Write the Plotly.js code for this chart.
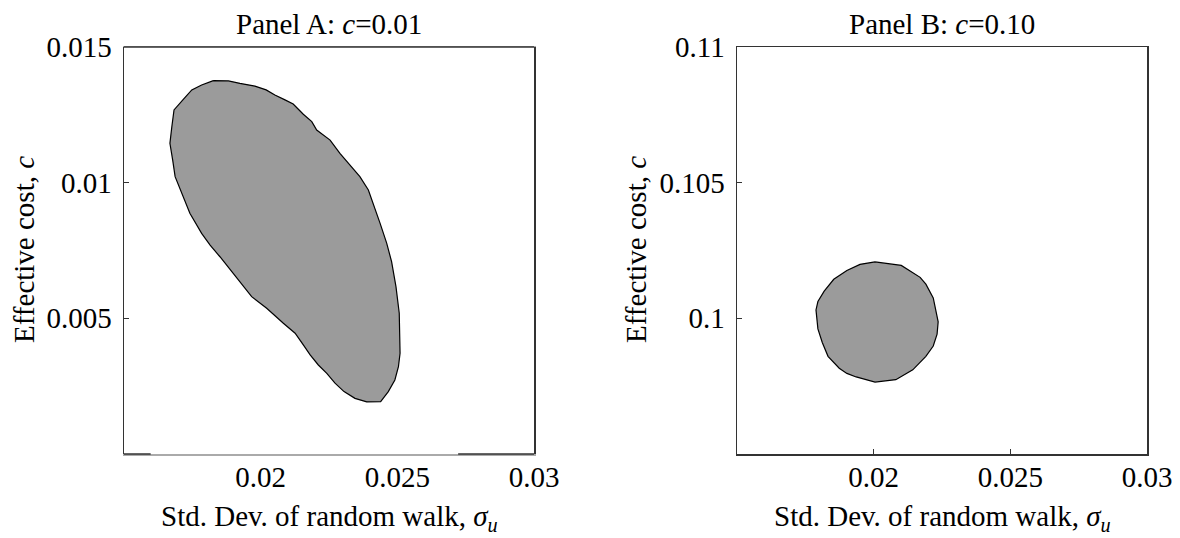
<!DOCTYPE html>
<html>
<head>
<meta charset="utf-8">
<script src="https://cdn.plot.ly/plotly-3.0.1.min.js"></script>
<style>html,body{margin:0;padding:0;background:#fff;}#chart{width:1180px;height:538px;}</style>
</head>
<body>
<div id="chart"></div>
<script>
// Panel A: c = 0.01 — boundary of the region (sigma_u, c)
const panelASigma = [0.01827,0.01882,0.01924,0.01979,0.02020,0.02052,0.02089,0.02119,0.02156,0.02187,0.02205,0.02254,0.02290,0.02327,0.02363,0.02394,0.02412,0.02437,0.02461,0.02479,0.02495,0.02507,0.02510,0.02504,0.02491,0.02467,0.02439,0.02388,0.02345,0.02305,0.02272,0.02242,0.02211,0.02181,0.02156,0.02126,0.02083,0.02022,0.01967,0.01924,0.01882,0.01851,0.01815,0.01784,0.01741,0.01717,0.01687,0.01678,0.01668,0.01675,0.01683,0.01717,0.01748,0.01784,0.01827];
const panelACost  = [0.01376,0.01375,0.01366,0.01356,0.01342,0.01323,0.01305,0.01290,0.01252,0.01225,0.01194,0.01157,0.01108,0.01065,0.01022,0.00973,0.00924,0.00850,0.00777,0.00709,0.00617,0.00519,0.00371,0.00322,0.00273,0.00230,0.00193,0.00192,0.00205,0.00230,0.00261,0.00297,0.00328,0.00365,0.00402,0.00445,0.00482,0.00537,0.00580,0.00635,0.00690,0.00727,0.00770,0.00813,0.00887,0.00948,0.01022,0.01084,0.01145,0.01206,0.01268,0.01307,0.01342,0.01360,0.01376];

// Panel B: c = 0.10
const panelBSigma = [0.02005,0.02101,0.02170,0.02191,0.02218,0.02225,0.02236,0.02232,0.02218,0.02191,0.02143,0.02081,0.02005,0.01936,0.01902,0.01874,0.01833,0.01812,0.01796,0.01789,0.01796,0.01819,0.01854,0.01902,0.01950,0.02005];
const panelBCost  = [0.10208,0.10195,0.10151,0.10126,0.10075,0.10043,0.09987,0.09942,0.09898,0.09860,0.09810,0.09774,0.09765,0.09784,0.09797,0.09816,0.09860,0.09911,0.09961,0.10031,0.10062,0.10100,0.10144,0.10176,0.10199,0.10208];

// Tick values and labels
const xTickVals = [0.02, 0.025, 0.03];
const xTickText = ['0.02', '0.025', '0.03'];
const yTickValsA = [0.005, 0.01, 0.015];
const yTickTextA = ['0.005', '0.01', '0.015'];
const yTickValsB = [0.1, 0.105, 0.11];
const yTickTextB = ['0.1', '0.105', '0.11'];

const titleA = 'Panel A: <i>c</i>=0.01';
const titleB = 'Panel B: <i>c</i>=0.10';
const xTitle = 'Std. Dev. of random walk, <i>σ<sub>u</sub></i>';
const yTitle = 'Effective cost, <i>c</i>';

const FONT = '"Liberation Serif", "Times New Roman", serif';
const AX = '#333333';
const fillGray = '#9b9b9b';
const TICKSIZE = 29;
const TITLESIZE = 29;

const traces = [
  {x: panelASigma, y: panelACost, xaxis: 'x', yaxis: 'y', type: 'scatter', mode: 'lines',
   fill: 'toself', fillcolor: fillGray, line: {color: '#000', width: 1.2}, hoverinfo: 'skip', showlegend: false},
  {x: panelBSigma, y: panelBCost, xaxis: 'x2', yaxis: 'y2', type: 'scatter', mode: 'lines',
   fill: 'toself', fillcolor: fillGray, line: {color: '#000', width: 1.2}, hoverinfo: 'skip', showlegend: false}
];

const baseAxis = {
  showgrid: false, zeroline: false, showline: true, linecolor: AX, linewidth: 1.5,
  mirror: true, ticks: 'inside', ticklen: 5, tickcolor: AX, tickwidth: 1.2,
  tickfont: {family: FONT, size: TICKSIZE, color: '#000'}, fixedrange: true
};

const yDom = [1 - 454/538, 1 - 47/538];

function ann(text, x, y, angle) {
  return {text: text, xref: 'paper', yref: 'paper', x: x, y: y, xanchor: 'center', yanchor: 'middle',
          textangle: angle || 0, showarrow: false, font: {family: FONT, size: TITLESIZE, color: '#000'}};
}

const layout = {
  width: 1180, height: 538,
  margin: {l: 0, r: 0, t: 0, b: 0},
  paper_bgcolor: '#fff', plot_bgcolor: '#fff',
  font: {family: FONT, size: TICKSIZE, color: '#000'},
  showlegend: false,
  xaxis: Object.assign({}, baseAxis, {domain: [124/1180, 534/1180], range: [0.015, 0.03],
    tickvals: xTickVals, ticktext: xTickText, ticks: '', ticklabelstandoff: -3, anchor: 'y',
    linecolor: '#aaaaaa'}),
  yaxis: Object.assign({}, baseAxis, {domain: yDom, range: [0, 0.015],
    tickvals: yTickValsA, ticktext: yTickTextA, ticklabelstandoff: 5, anchor: 'x'}),
  xaxis2: Object.assign({}, baseAxis, {domain: [737/1180, 1147/1180], range: [0.015, 0.03],
    tickvals: xTickVals, ticktext: xTickText, ticklabelstandoff: -3, anchor: 'y2'}),
  yaxis2: Object.assign({}, baseAxis, {domain: yDom, range: [0.095, 0.11],
    tickvals: yTickValsB, ticktext: yTickTextB, ticklabelstandoff: 5, anchor: 'x2'}),
  shapes: [
    // dark frame segments of panel A (top edge and the two dark ends of the bottom edge)
    {type: 'line', xref: 'x domain', yref: 'y domain', x0: 0, x1: 1, y0: 1, y1: 1, line: {color: AX, width: 1.5}},
    {type: 'line', xref: 'x domain', yref: 'y domain', x0: 0, x1: 0.065, y0: 0, y1: 0, line: {color: AX, width: 1.5}},
    {type: 'line', xref: 'x domain', yref: 'y domain', x0: 0.815, x1: 1, y0: 0, y1: 0, line: {color: AX, width: 1.5}}
  ],
  annotations: [
    ann(titleA, 329/1180, 1 - 24/538),
    ann(titleB, 942/1180, 1 - 24/538),
    ann(xTitle, 329/1180, 1 - 518/538),
    ann(xTitle, 942/1180, 1 - 518/538),
    ann(yTitle, 24/1180, 1 - 250/538, -90),
    ann(yTitle, 636/1180, 1 - 250/538, -90)
  ]
};

Plotly.newPlot('chart', traces, layout, {staticPlot: true, displayModeBar: false});
</script>
</body>
</html>
